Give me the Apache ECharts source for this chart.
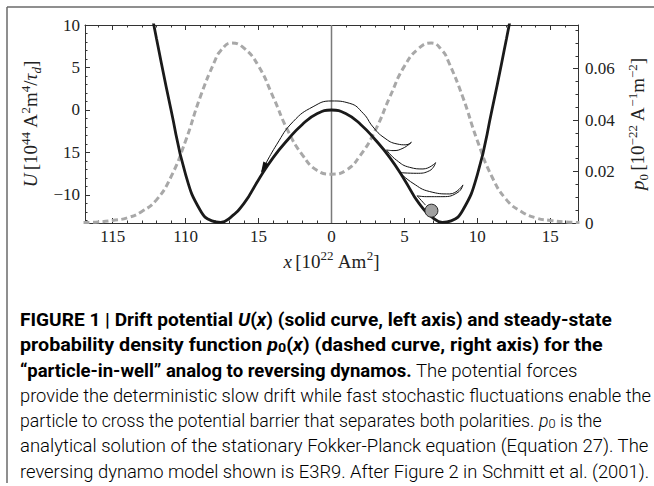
<!DOCTYPE html>
<html>
<head>
<meta charset="utf-8">
<script src="https://cdn.jsdelivr.net/npm/echarts@6/dist/echarts.min.js"></script>
<style>
  html, body { margin: 0; padding: 0; background: #fff; }
  #chart { width: 654px; height: 486px; }
</style>
</head>
<body>
<div id="chart"></div>
<script>
// drift potential U(x) -- solid curve, left axis
const uX   = [-12.5, -12, -11, -10, -9, -8.2, -7.6, -7, -6, -5, -4, -3, -2, -1, 0,
              1, 2, 3, 4, 5, 6, 7, 7.6, 8.2, 9, 10, 11, 12, 12.5];
const uVal = [12.8, 8.4, 0, -7.6, -11.8, -13.05, -13.22, -12.75, -11.0, -8.2, -5.6, -3.5, -1.7, -0.45, 0,
              -0.45, -1.7, -3.5, -5.6, -8.2, -11.0, -12.75, -13.22, -13.05, -11.8, -7.6, 0, 8.4, 12.8];

// steady-state density p0(x) -- dashed curve, right axis
const pX   = [-17, -16, -15, -14, -13, -12, -11, -10, -9, -8, -7.6, -6.85, -6, -5, -4, -3, -2, -1, 0,
              1, 2, 3, 4, 5, 6, 6.85, 7.6, 8, 9, 10, 11, 12, 13, 14, 15, 16, 17];
const pVal = [0.0002, 0.0004, 0.001, 0.002, 0.0045, 0.009, 0.018, 0.032, 0.049, 0.063, 0.067, 0.070, 0.068, 0.061, 0.049, 0.036, 0.0265, 0.0205, 0.019,
              0.0205, 0.0265, 0.036, 0.049, 0.061, 0.068, 0.070, 0.067, 0.063, 0.049, 0.032, 0.018, 0.009, 0.0045, 0.002, 0.001, 0.0004, 0.0002];

const xTickValues = [-15, -10, -5, 0, 5, 10, 15];
const xTickLabels = ['115', '110', '15', '0', '5', '10', '15'];
const uTickValues = [-10, -5, 0, 5, 10];
const uTickLabels = ['\u221210', '15', '0', '5', '10'];
const pTickValues = [0, 0.02, 0.04, 0.06];
const pTickLabels = ['0', '0.02', '0.04', '0.06'];

// thin arrow over the barrier and the hooks down to the particle
const arrowPath = [[-4.79, -7.26], [-3.77, -4.1], [-2.63, -1.37], [-1.26, 0.39], [0, 1.06], [1.25, 0.78],
                   [2.17, -0.39], [2.85, -2.0], [3.6, -3.25], [4.5, -4.0], [5.1, -4.1], [5.48, -3.8]];
const arrowHead = [-4.66, -6.8];
const hookPaths = [
  [[5.48, -3.8], [4.9, -4.5], [4.22, -4.78], [3.77, -4.7]],
  [[3.77, -4.7], [4.45, -5.9], [5.36, -6.75], [6.27, -6.94], [7.14, -6.2]],
  [[7.14, -6.2], [6.73, -7.14], [5.82, -7.45], [4.68, -7.37]],
  [[4.68, -7.37], [5.59, -8.63], [6.73, -9.6], [8.1, -9.88], [9.01, -8.82]],
  [[9.01, -8.82], [8.67, -9.69], [7.64, -10.2], [6.5, -10.2], [5.87, -10.1]],
  [[5.87, -10.1], [6.45, -11.2]]
];
const ball = [6.85, -11.85];

const captionLines = [
  [['b', 'FIGURE 1 | Drift potential '], ['bi', 'U'], ['b', '('], ['bi', 'x'], ['b', ') (solid curve, left axis) and steady-state']],
  [['b', 'probability density function '], ['bi', 'p'], ['bs', '0'], ['b', '('], ['bi', 'x'], ['b', ') (dashed curve, right axis) for the']],
  [['b', '\u201cparticle-in-well\u201d analog to reversing dynamos.'], ['r', ' The potential forces']],
  [['r', 'provide the deterministic slow drift while fast stochastic fluctuations enable the']],
  [['r', 'particle to cross the potential barrier that separates both polarities. '], ['ri', 'p'], ['rs', '0'], ['r', ' is the']],
  [['r', 'analytical solution of the stationary Fokker-Planck equation (Equation 27). The']],
  [['r', 'reversing dynamo model shown is E3R9. After Figure 2 in '], ['g', 'Schmitt et al. (2001)'], ['r', '.']]
];
// right edge of each caption line in the reference
const captionEnds = [612, 603, 578, 652, 602, 649, 649];

const xMin = -16.9, xMax = 16.9;
const uMin = -13.3, uMax = 10;
const pMin = 0, pMax = 0.077;

function steps(a, b, n) {
  const out = [];
  for (let i = a; i <= b; i++) out.push(Math.round(i * n * 1e6) / 1e6);
  return out;
}

const serif = 'Liberation Serif';
const frameColor = '#333';
const capFont = 'Roboto';
const capSize = 18;

const capRich = {
  b:  { fontFamily: capFont, fontSize: capSize, fontWeight: 'bold', color: '#1e1e1e' },
  bi: { fontFamily: capFont, fontSize: capSize, fontWeight: 'bold', fontStyle: 'italic', color: '#1e1e1e' },
  bs: { fontFamily: capFont, fontSize: 13, fontWeight: 'bold', color: '#1e1e1e', verticalAlign: 'bottom', lineHeight: 15 },
  r:  { fontFamily: capFont, fontSize: capSize, fontWeight: 300, color: '#333' },
  ri: { fontFamily: capFont, fontSize: capSize, fontWeight: 300, fontStyle: 'italic', color: '#333' },
  rs: { fontFamily: capFont, fontSize: 13, fontWeight: 300, color: '#333', verticalAlign: 'bottom', lineHeight: 15 },
  g:  { fontFamily: capFont, fontSize: capSize, fontWeight: 300, color: '#8a8a8a' }
};

// squeeze each caption line so it ends where the reference line ends
const ctx = document.createElement('canvas').getContext('2d');
function lineWidth(line) {
  let w = 0;
  line.forEach(t => {
    const s = capRich[t[0]];
    ctx.font = (s.fontStyle || 'normal') + ' ' + s.fontWeight + ' ' + s.fontSize + 'px ' + s.fontFamily;
    w += ctx.measureText(t[1]).width;
  });
  return w;
}

const axisRich = {
  r: { fontFamily: serif, fontSize: 19, color: '#222', lineHeight: 24 },
  i: { fontFamily: serif, fontSize: 19, fontStyle: 'italic', color: '#222', lineHeight: 24 },
  s: { fontFamily: serif, fontSize: 13, color: '#222', lineHeight: 11, verticalAlign: 'top' },
  d: { fontFamily: serif, fontSize: 13, fontStyle: 'italic', color: '#222', lineHeight: 13, verticalAlign: 'bottom' },
  n: { fontFamily: serif, fontSize: 13, color: '#222', lineHeight: 13, verticalAlign: 'bottom' }
};

function frameAxis(extra) {
  return Object.assign({
    type: 'value',
    gridIndex: 0,
    splitLine: { show: false },
    axisLine: { show: true, onZero: false, lineStyle: { color: frameColor, width: 1 } },
    axisTick: { show: true, inside: true, length: 5, lineStyle: { color: frameColor } },
    axisLabel: { show: false }
  }, extra);
}

const chart = echarts.init(document.getElementById('chart'), null, { renderer: 'svg' });

const series = [
  {
    type: 'line', data: [[0, uMin], [0, uMax]], symbol: 'none', silent: true, z: 1,
    lineStyle: { color: '#7a7a7a', width: 1.5 }
  },
  {
    name: 'p0', type: 'line', yAxisIndex: 1, smooth: true, showSymbol: false, z: 2,
    data: pX.map((x, i) => [x, pVal[i]]),
    lineStyle: { color: '#a8a8a8', width: 3, type: [6, 3.5] }
  },
  {
    name: 'U', type: 'line', smooth: true, showSymbol: false, z: 3,
    data: uX.map((x, i) => [x, uVal[i]]),
    lineStyle: { color: '#1a1a1a', width: 2.8 }
  },
  {
    type: 'line', smooth: true, showSymbol: false, z: 4, silent: true,
    data: arrowPath, lineStyle: { color: '#111', width: 1 }
  },
  {
    type: 'scatter', data: [arrowHead], symbol: 'triangle', symbolSize: [6, 11], symbolRotate: 153,
    z: 4, silent: true, itemStyle: { color: '#111', opacity: 1 }
  }
].concat(hookPaths.map(h => ({
  type: 'line', smooth: true, showSymbol: false, z: 4, silent: true,
  data: h, lineStyle: { color: '#111', width: 1 }
}))).concat([{
  type: 'scatter', data: [ball], symbolSize: 13, z: 5, silent: true,
  itemStyle: { color: '#a0a0a0', borderColor: '#222', borderWidth: 1, opacity: 1 }
}]);

chart.setOption({
  animation: false,
  backgroundColor: '#fff',
  grid: { left: 85, right: 76, top: 25, bottom: 263, outerBoundsMode: 'none' },
  xAxis: [
    frameAxis({
      position: 'bottom', min: xMin, max: xMax,
      axisTick: { show: true, inside: true, length: 5, customValues: xTickValues, lineStyle: { color: frameColor } },
      axisLabel: {
        show: true, customValues: xTickValues, margin: 5, color: '#222',
        fontFamily: serif, fontSize: 17,
        formatter: v => xTickLabels[xTickValues.indexOf(v)]
      },
      name: '{i|x} {r|[10}{s|22}{r| Am}{s|2}{r|]}',
      nameLocation: 'middle', nameGap: 26,
      nameTextStyle: { rich: axisRich }
    }),
    frameAxis({
      position: 'top', min: xMin, max: xMax,
      axisTick: { show: true, inside: true, length: 5, customValues: xTickValues, lineStyle: { color: frameColor } }
    }),
    frameAxis({
      position: 'bottom', min: xMin, max: xMax, axisLine: { show: false, onZero: false },
      axisTick: { show: true, inside: true, length: 2.5, customValues: steps(-16, 16, 1), lineStyle: { color: frameColor } }
    }),
    frameAxis({
      position: 'top', min: xMin, max: xMax, axisLine: { show: false, onZero: false },
      axisTick: { show: true, inside: true, length: 2.5, customValues: steps(-16, 16, 1), lineStyle: { color: frameColor } }
    })
  ],
  yAxis: [
    frameAxis({
      position: 'left', min: uMin, max: uMax,
      axisTick: { show: true, inside: true, length: 5, customValues: uTickValues, lineStyle: { color: frameColor } },
      axisLabel: {
        show: true, customValues: uTickValues, margin: 5, color: '#222',
        fontFamily: serif, fontSize: 17,
        formatter: v => uTickLabels[uTickValues.indexOf(v)]
      },
      name: '{i|U} {r|[10}{s|44}{r| A}{s|2}{r|m}{s|4}{r|/}{i|\u03c4}{d|d}{r|]}',
      nameLocation: 'middle', nameGap: 32, nameRotate: 90,
      nameTextStyle: { rich: axisRich }
    }),
    frameAxis({
      position: 'right', min: pMin, max: pMax,
      axisTick: { show: true, inside: true, length: 5, customValues: pTickValues, lineStyle: { color: frameColor } },
      axisLabel: {
        show: true, customValues: pTickValues, margin: 7, color: '#222',
        fontFamily: serif, fontSize: 17,
        formatter: v => pTickLabels[pTickValues.indexOf(v)]
      },
      name: '{i|p}{n|0} {r|[10}{s|\u221222}{r| A}{s|\u22121}{r|m}{s|\u22122}{r|]}',
      nameLocation: 'middle', nameGap: 42, nameRotate: 90,
      nameTextStyle: { rich: axisRich }
    }),
    frameAxis({
      position: 'left', min: uMin, max: uMax, axisLine: { show: false, onZero: false },
      axisTick: { show: true, inside: true, length: 2.5, customValues: steps(-13, 10, 1), lineStyle: { color: frameColor } }
    }),
    frameAxis({
      position: 'right', min: pMin, max: pMax, axisLine: { show: false, onZero: false },
      axisTick: { show: true, inside: true, length: 2.5, customValues: steps(0, 15, 0.005), lineStyle: { color: frameColor } }
    })
  ],
  series: series,
  graphic: [
    { type: 'line', shape: { x1: 7, y1: 7, x2: 654, y2: 7 }, style: { stroke: '#6a6a6a', lineWidth: 1.5 } },
    { type: 'line', shape: { x1: 7, y1: 7, x2: 7, y2: 483 }, style: { stroke: '#6a6a6a', lineWidth: 1.5 } }
  ].concat(captionLines.map((line, i) => ({
    type: 'text',
    x: 20, y: 320 + i * 25.2,
    scaleX: (captionEnds[i] - 20) / lineWidth(line),
    style: {
      text: line.map(t => '{' + t[0] + '|' + t[1] + '}').join(''),
      rich: capRich,
      font: capSize + 'px ' + capFont,
      align: 'left', verticalAlign: 'middle'
    }
  })))
});
</script>
</body>
</html>
